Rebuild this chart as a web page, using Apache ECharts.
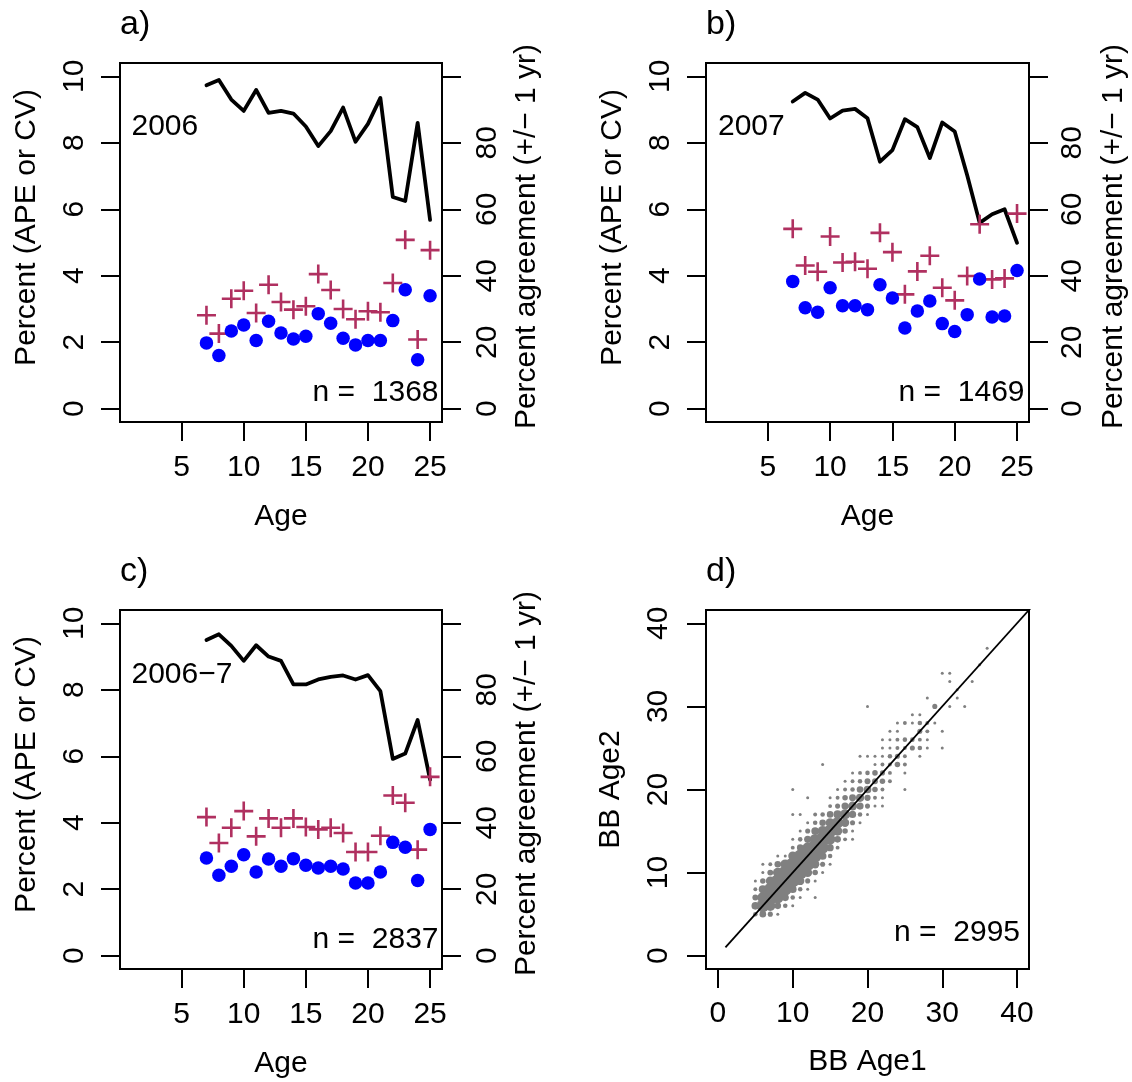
<!DOCTYPE html>
<html><head><meta charset="utf-8">
<script src="https://cdn.jsdelivr.net/npm/echarts@6/dist/echarts.min.js"></script>
<style>html,body{margin:0;padding:0;background:#fff}#c{width:1132px;height:1082px}</style>
</head><body><div id="c"></div>
<script>
// ---------- data ----------
const ages = [7, 8, 9, 10, 11, 12, 13, 14, 15, 16, 17, 18, 19, 20, 21, 22, 23, 24, 25];

// panel a) 2006
const agreeA = [97.3, 98.9, 93.0, 89.6, 95.9, 89.0, 89.6, 88.8, 84.9, 79.0, 83.5, 90.6, 80.3, 85.7, 93.5, 63.7, 62.5, 86.0, 56.8];
const cvA    = [2.81, 2.26, 3.31, 3.55, 2.88, 3.73, 3.21, 2.98, 3.08, 4.05, 3.57, 3.00, 2.69, 2.93, 2.90, 3.78, 5.08, 2.08, 4.77];
const apeA   = [1.98, 1.60, 2.34, 2.52, 2.05, 2.63, 2.28, 2.10, 2.18, 2.86, 2.57, 2.12, 1.92, 2.05, 2.05, 2.65, 3.58, 1.47, 3.40];

// panel b) 2007
const agreeB = [92.4, 95.0, 93.0, 87.3, 89.7, 90.2, 87.4, 74.3, 77.8, 87.1, 84.7, 75.4, 86.1, 83.4, 70.2, 55.9, 58.5, 60.0, 49.9];
const cvB    = [5.41, 4.31, 4.12, 5.18, 4.40, 4.42, 4.21, 5.29, 4.71, 3.44, 4.13, 4.60, 3.64, 3.26, 3.99, 5.55, 3.89, 3.92, 5.87];
const apeB   = [3.83, 3.04, 2.90, 3.64, 3.10, 3.10, 2.98, 3.73, 3.33, 2.43, 2.94, 3.24, 2.56, 2.32, 2.83, 3.90, 2.76, 2.79, 4.16];

// panel c) 2006-7
const agreeC = [95.0, 96.7, 93.2, 88.7, 93.4, 90.0, 88.7, 81.6, 81.6, 83.1, 83.9, 84.3, 83.1, 84.4, 79.6, 59.2, 60.8, 70.9, 53.0];
const cvC    = [4.17, 3.39, 3.85, 4.35, 3.59, 4.13, 3.85, 4.13, 3.87, 3.80, 3.85, 3.69, 3.12, 3.12, 3.61, 4.82, 4.60, 3.19, 5.38];
const apeC   = [2.94, 2.42, 2.69, 3.04, 2.52, 2.91, 2.69, 2.92, 2.72, 2.64, 2.69, 2.61, 2.19, 2.19, 2.52, 3.41, 3.26, 2.26, 3.80];

// panel d) BB Age1 vs BB Age2: [age1, age2, count]
const bbPairs = [
  [5,5,3],[6,5,8],[7,5,4],[8,5,1],
  [5,6,12],[6,6,45],[7,6,25],[8,6,8],[9,6,3],[10,6,1],
  [5,7,6],[6,7,30],[7,7,70],[8,7,35],[9,7,10],[10,7,3],[11,7,1],[13,7,1],
  [5,8,2],[6,8,14],[7,8,45],[8,8,90],[9,8,45],[10,8,12],[11,8,3],[12,8,1],
  [5,9,1],[6,9,5],[7,9,18],[8,9,50],[9,9,100],[10,9,50],[11,9,15],[12,9,4],[13,9,1],
  [6,10,1],[7,10,6],[8,10,22],[9,10,55],[10,10,110],[11,10,55],[12,10,18],[13,10,5],[14,10,1],
  [6,11,1],[7,11,2],[8,11,8],[9,11,22],[10,11,55],[11,11,105],[12,11,50],[13,11,15],[14,11,4],[15,11,1],
  [8,12,1],[9,12,1],[10,12,18],[11,12,45],[12,12,95],[13,12,45],[14,12,12],[15,12,3],
  [10,13,2],[11,13,8],[12,13,28],[13,13,75],[14,13,38],[15,13,10],[16,13,2],
  [10,14,1],[11,14,3],[12,14,10],[13,14,30],[14,14,60],[15,14,28],[16,14,8],[17,14,2],[18,14,1],
  [11,15,1],[12,15,4],[13,15,12],[14,15,25],[15,15,45],[16,15,20],[17,15,5],[18,15,1],
  [12,16,1],[13,16,3],[14,16,8],[15,16,18],[16,16,35],[17,16,15],[18,16,4],[19,16,1],
  [10,17,1],[11,17,1],[13,17,2],[14,17,3],[15,17,8],[16,17,14],[17,17,25],[18,17,10],[19,17,3],[20,17,1],
  [15,18,2],[16,18,4],[17,18,10],[18,18,18],[19,18,10],[20,18,4],[21,18,1],[22,18,1],
  [12,19,1],[15,19,1],[16,19,2],[17,19,5],[18,19,9],[19,19,14],[20,19,7],[21,19,2],[22,19,1],
  [10,20,1],[16,20,1],[17,20,2],[18,20,3],[19,20,8],[20,20,12],[21,20,5],[22,20,2],[25,20,1],
  [17,21,1],[18,21,2],[19,21,3],[20,21,6],[21,21,6],[22,21,5],[23,21,2],
  [18,22,1],[19,22,2],[20,22,3],[21,22,5],[22,22,4],[23,22,2],[25,22,1],
  [14,23,1],[21,23,1],[22,23,2],[23,23,2],[24,23,5],[25,23,2],
  [19,24,1],[20,24,1],[21,24,1],[22,24,1],[23,24,3],[24,24,4],[25,24,2],[27,24,1],
  [22,25,1],[23,25,1],[24,25,2],[25,25,2],[26,25,4],[27,25,3],[28,25,1],[30,25,1],
  [22,26,1],[23,26,1],[24,26,2],[25,26,3],[26,26,3],[27,26,2],[28,26,1],
  [23,27,1],[24,27,1],[27,27,4],[28,27,2],[30,27,1],
  [24,28,1],[25,28,2],[26,28,1],[27,28,3],[28,28,2],[29,28,1],
  [26,29,1],[27,29,1],
  [20,30,1],[29,30,4],[31,30,1],[33,30,1],
  [28,31,1],[32,31,1],[32,32,1],
  [31,33,1],[34,33,1],
  [30,34,1],[31,34,1],
  [35,35,1],
  [36,37,1]
];
const oneToOne = [[1, 1], [50, 50]];

// tick labels
const ageTicks = [5, 10, 15, 20, 25];
const pctTicks = [0, 2, 4, 6, 8, 10];
const agreeTicks = [0, 20, 40, 60, 80, 100];
const agreeLabels = [0, 20, 40, 60, 80];
const bbTicks = [0, 10, 20, 30, 40];

// ---------- chart ----------
const FONT = 'Liberation Sans';
const chart = echarts.init(document.getElementById('c'), null, {renderer: 'canvas'});

const grids = [
  {left: 120, top: 63, width: 322, height: 359},
  {left: 706, top: 63, width: 323, height: 359},
  {left: 120, top: 610, width: 322, height: 359},
  {left: 706, top: 610, width: 323, height: 359}
].map(g => Object.assign({show: true, borderColor: '#000', borderWidth: 2, backgroundColor: 'transparent', containLabel: false, outerBoundsMode: 'none'}, g));

const txt = {fontSize: 30, fontFamily: FONT, color: '#000'};
const lineS = {color: '#000', width: 2};

function xAx(gi, min, max, ticks, name, gap, margin) {
  return {
    type: 'value', gridIndex: gi, min: min, max: max, position: 'bottom',
    axisLine: {show: true, onZero: false, lineStyle: lineS},
    axisTick: {show: true, length: 19, lineStyle: lineS, customValues: ticks},
    axisLabel: Object.assign({show: true, customValues: ticks, margin: margin, align: 'center', verticalAlign: 'middle'}, txt),
    splitLine: {show: false},
    name: name, nameLocation: 'middle', nameGap: gap,
    nameTextStyle: Object.assign({align: 'center', verticalAlign: 'middle'}, txt)
  };
}
function yAx(gi, pos, min, max, ticks, labels, name, gap, margin, shift) {
  return {
    type: 'value', gridIndex: gi, min: min, max: max, position: pos,
    axisLine: {show: true, onZero: false, lineStyle: lineS},
    axisTick: {show: true, length: 19, lineStyle: lineS, customValues: ticks},
    axisLabel: Object.assign({show: true, customValues: labels, margin: margin, rotate: 90, align: 'center', verticalAlign: 'middle'}, txt),
    splitLine: {show: false},
    name: name, nameLocation: 'middle', nameGap: gap, nameRotate: 90,
    nameTextStyle: Object.assign({align: 'center', verticalAlign: 'middle', padding: [0, 0, 0, shift || 0]}, txt)
  };
}

const leftName = 'Percent (APE or CV)';
const rightName = 'Percent agreement (+/\u2212 1 yr)';

const xAxis = [
  xAx(0, 0.04, 25.96, ageTicks, 'Age', 95, 46),
  xAx(1, 0.04, 25.96, ageTicks, 'Age', 95, 46),
  xAx(2, 0.04, 25.96, ageTicks, 'Age', 95, 46),
  xAx(3, -1.6, 41.6, bbTicks, 'BB Age1', 93, 45)
];
const yAxis = [
  yAx(0, 'left', -0.4, 10.4, pctTicks, pctTicks, leftName, 93, 45, 30),
  yAx(0, 'right', -4, 104, agreeTicks, agreeLabels, rightName, 85, 46, 12),
  yAx(1, 'left', -0.4, 10.4, pctTicks, pctTicks, leftName, 93, 45, 30),
  yAx(1, 'right', -4, 104, agreeTicks, agreeLabels, rightName, 85, 44, 12),
  yAx(2, 'left', -0.4, 10.4, pctTicks, pctTicks, leftName, 93, 45, 30),
  yAx(2, 'right', -4, 104, agreeTicks, agreeLabels, rightName, 85, 46, 12),
  yAx(3, 'left', -1.6, 41.6, bbTicks, bbTicks, 'BB Age2', 95, 47, 0)
];

const CROSS = 'path://M0,8.2 L8.2,8.2 L8.2,0 L10.8,0 L10.8,8.2 L19,8.2 L19,10.8 L10.8,10.8 L10.8,19 L8.2,19 L8.2,10.8 L0,10.8 Z';

function panelSeries(i, agree, cv, ape) {
  const pair = arr => ages.map((a, k) => [a, arr[k]]);
  return [
    {type: 'line', xAxisIndex: i, yAxisIndex: 2 * i + 1, data: pair(agree), symbol: 'none',
     lineStyle: {color: '#000', width: 3.8, cap: 'round', join: 'round'}, z: 2, silent: true},
    {type: 'scatter', xAxisIndex: i, yAxisIndex: 2 * i, data: pair(cv), symbol: CROSS, symbolSize: 19,
     itemStyle: {color: '#B03060', opacity: 1}, z: 3, silent: true},
    {type: 'scatter', xAxisIndex: i, yAxisIndex: 2 * i, data: pair(ape), symbol: 'circle', symbolSize: 13.5,
     itemStyle: {color: '#0000FF', opacity: 1}, z: 4, silent: true}
  ];
}

const series = [].concat(
  panelSeries(0, agreeA, cvA, apeA),
  panelSeries(1, agreeB, cvB, apeB),
  panelSeries(2, agreeC, cvC, apeC),
  [
    {type: 'scatter', xAxisIndex: 3, yAxisIndex: 6, data: bbPairs, symbol: 'circle',
     symbolSize: function (v) { return 3 * Math.pow(v[2], 0.38); },
     itemStyle: {color: '#808080', opacity: 1}, z: 2, silent: true},
    {type: 'line', xAxisIndex: 3, yAxisIndex: 6, data: oneToOne, symbol: 'none', clip: true,
     lineStyle: {color: '#000', width: 1.8}, z: 3, silent: true}
  ]
);

function label(t, x, y, align, size) {
  return {type: 'text', x: x, y: y, silent: true,
    style: {text: t, font: (size || 30) + 'px "' + FONT + '"', fill: '#000',
            textAlign: align || 'left', align: align || 'left',
            textVerticalAlign: 'middle', verticalAlign: 'middle'}};
}

const graphic = [
  label('a)', 120, 25, 'left', 34), label('b)', 706, 25, 'left', 34),
  label('c)', 120, 572, 'left', 34), label('d)', 706, 572, 'left', 34),
  label('2006', 131.5, 127), label('2007', 718, 127), label('2006\u22127', 131.5, 674.5),
  label('n =  1368', 438.5, 393, 'right'), label('n =  1469', 1024.5, 393, 'right'),
  label('n =  2837', 438.5, 940, 'right'), label('n =  2995', 1020, 933, 'right')
];

chart.setOption({
  animation: false,
  backgroundColor: '#fff',
  grid: grids,
  xAxis: xAxis,
  yAxis: yAxis,
  series: series,
  graphic: graphic
});
</script>
</body></html>
